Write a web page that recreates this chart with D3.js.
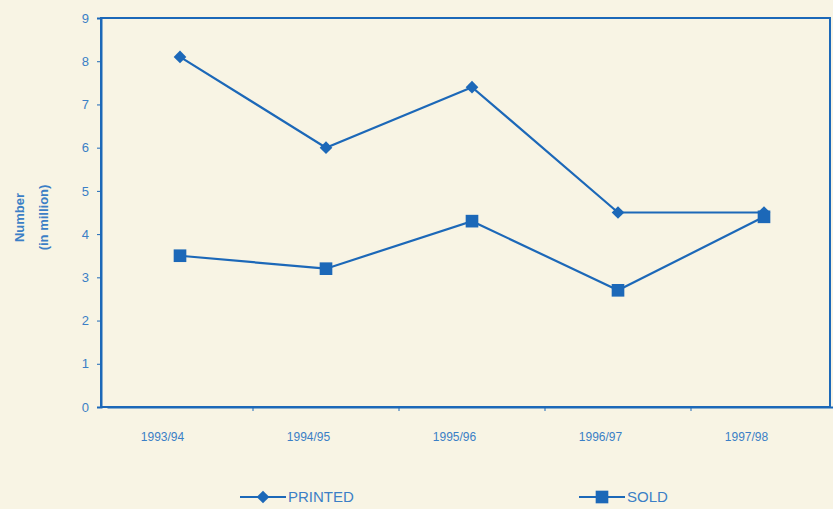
<!DOCTYPE html>
<html><head><meta charset="utf-8">
<script src="https://cdn.jsdelivr.net/npm/d3@7"></script>
<style>
html,body{margin:0;padding:0;background:#f8f4e4;}
svg{display:block;}
</style></head>
<body>
<svg id="chart" width="833" height="509"></svg>
<script>
const categories = ["1993/94","1994/95","1995/96","1996/97","1997/98"];
const printed = [8.1, 6.0, 7.4, 4.5, 4.5];
const sold = [3.5, 3.2, 4.3, 2.7, 4.4];
const yTicks = [0,1,2,3,4,5,6,7,8,9];
const seriesNames = ["PRINTED","SOLD"];

const lineColor = "#1c68b8";
const textColor = "#3b7fc6";
const svg = d3.select("#chart");
const W = 833, H = 509;
const m = {left:101, right:3, top:18, bottom:102};
const x = d3.scalePoint().domain(categories).range([m.left + 6, W + 4]).padding(0.5);
const y = d3.scaleLinear().domain([0,9]).range([H - m.bottom, m.top]);

svg.append("rect").attr("width",W).attr("height",H).attr("fill","#f8f4e4");

// plot frame
svg.append("rect")
  .attr("x", m.left).attr("y", m.top)
  .attr("width", W - m.right - m.left).attr("height", y(0) - m.top)
  .attr("fill","none").attr("stroke", lineColor).attr("stroke-width", 2);

// y axis
const yAxis = svg.append("g").attr("transform",`translate(${m.left},0)`)
  .call(d3.axisLeft(y).tickValues(yTicks).tickFormat(d3.format("d")).tickSize(4).tickPadding(8));
yAxis.select(".domain").attr("stroke", lineColor).attr("stroke-width",2);
yAxis.selectAll(".tick line").attr("stroke", lineColor);
yAxis.selectAll("text").attr("fill", textColor).style("font-family","Liberation Sans, Arial, sans-serif").style("font-size","13px");

// x axis
const xAxis = svg.append("g").attr("transform",`translate(0,${y(0)})`)
  .call(d3.axisBottom(x).tickSize(0).tickPadding(25));
xAxis.select(".domain").attr("stroke", lineColor).attr("stroke-width",2);
xAxis.selectAll("text").attr("fill", textColor).attr("dx", -18)
  .style("font-family","Liberation Sans, Arial, sans-serif").style("font-size","12px");
// small category boundary ticks
const step = x.step();
svg.append("g").selectAll("line").data(categories.slice(1)).join("line")
  .attr("x1", d => x(d) - step/2).attr("x2", d => x(d) - step/2)
  .attr("y1", y(0)).attr("y2", y(0) + 4)
  .attr("stroke", lineColor).attr("stroke-width",1);

// y title
const yt = svg.append("text")
  .attr("transform", `translate(24,${(m.top + y(0))/2 + 5}) rotate(-90)`)
  .attr("text-anchor","middle").attr("fill", textColor)
  .style("font-family","Liberation Sans, Arial, sans-serif").style("font-size","13px").style("font-weight","bold");
yt.append("tspan").attr("x",0).attr("dy",0).text("Number");
yt.append("tspan").attr("x",0).attr("dy",24).text("(in million)");

const line = d3.line().x((d,i) => x(categories[i])).y(d => y(d));

svg.append("path").datum(printed).attr("d", line)
  .attr("fill","none").attr("stroke", lineColor).attr("stroke-width",2.2);
svg.append("path").datum(sold).attr("d", line)
  .attr("fill","none").attr("stroke", lineColor).attr("stroke-width",2.2);

const diamond = d3.symbol().type(d3.symbolSquare).size(80);
const square = d3.symbol().type(d3.symbolSquare).size(160);

svg.append("g").selectAll("path").data(printed).join("path")
  .attr("d", diamond)
  .attr("transform", (d,i) => `translate(${x(categories[i])},${y(d)}) rotate(45)`)
  .attr("fill", lineColor);
svg.append("g").selectAll("path").data(sold).join("path")
  .attr("d", square)
  .attr("transform", (d,i) => `translate(${x(categories[i])},${y(d)})`)
  .attr("fill", lineColor);

// legend
const legend = [
  {name: seriesNames[0], sym: diamond, rot: 45, x0: 240},
  {name: seriesNames[1], sym: square, rot: 0, x0: 579}
];
const ly = 497;
legend.forEach(l => {
  const g = svg.append("g");
  g.append("line").attr("x1", l.x0).attr("x2", l.x0 + 46).attr("y1", ly).attr("y2", ly)
    .attr("stroke", lineColor).attr("stroke-width",2);
  g.append("path").attr("d", l.sym).attr("transform",`translate(${l.x0+23},${ly}) rotate(${l.rot})`).attr("fill", lineColor);
  g.append("text").attr("x", l.x0 + 48).attr("y", ly + 5).text(l.name)
    .attr("fill", textColor).style("font-family","Liberation Sans, Arial, sans-serif").style("font-size","15px");
});
</script>
</body></html>
